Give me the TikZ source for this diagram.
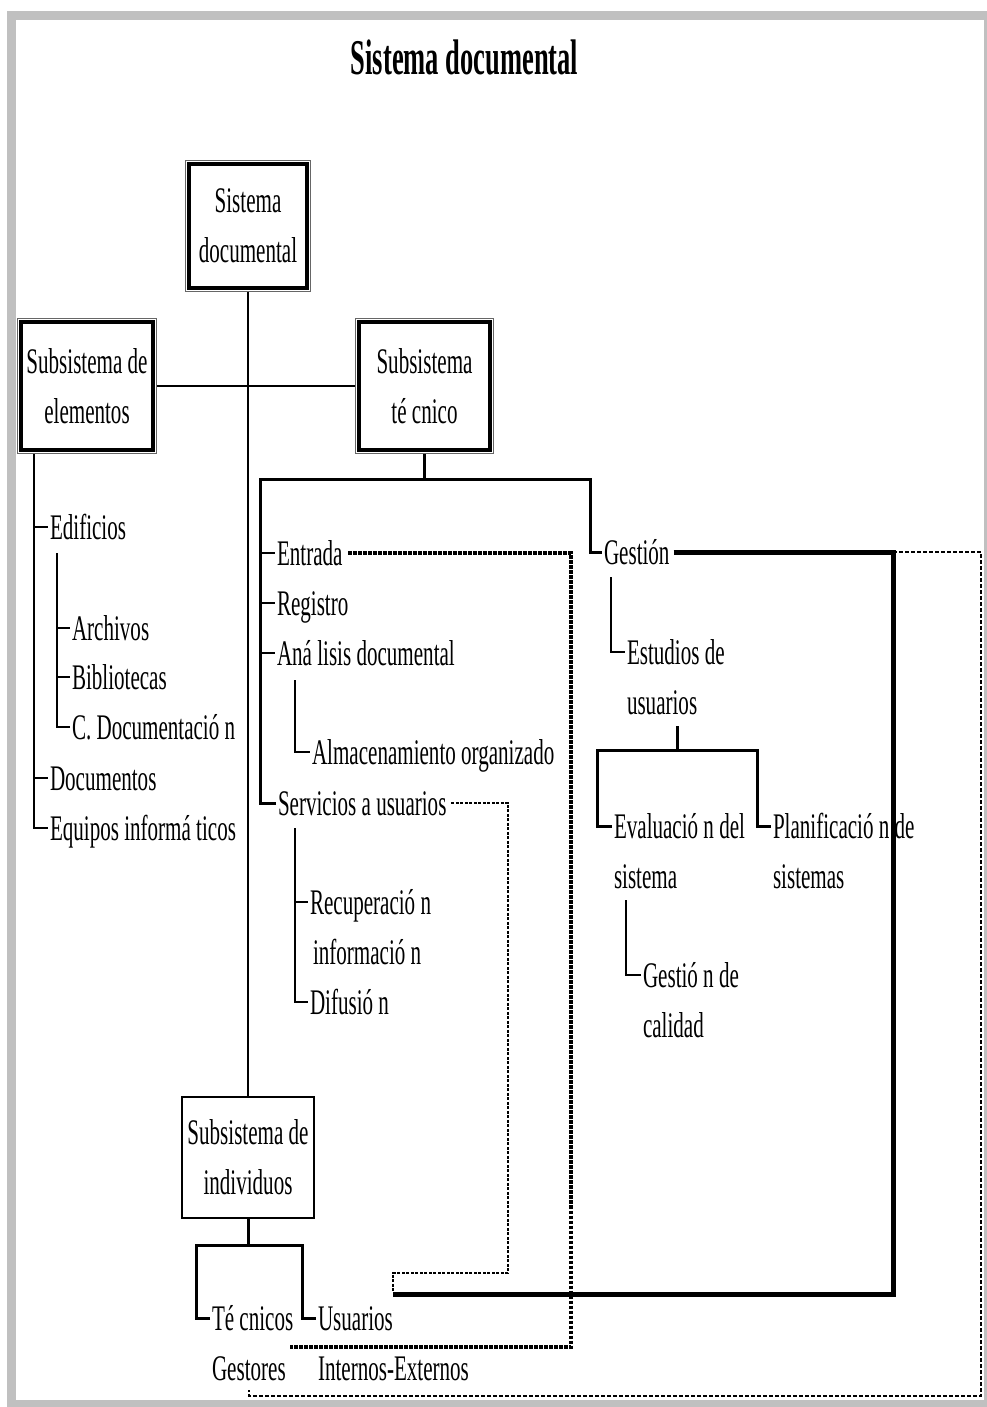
\documentclass[tikz,border=0pt]{standalone}
\usepackage{fontspec}
\setmainfont{Liberation Serif}[FakeStretch=0.585]
\newfontfamily\titlefont{Liberation Serif}[FakeStretch=0.53]
\definecolor{framegray}{HTML}{C0C0C0}
\begin{document}
\begin{tikzpicture}[x=1pt,y=-1pt,
  txt/.style={font=\fontsize{36}{50}\selectfont, inner sep=0pt, outer sep=0pt, anchor=base west, text height=24pt, text depth=0pt},
  dblbox/.style={draw, line width=3.3pt, inner sep=0pt, outer sep=3.8pt, align=center, font=\fontsize{36}{50}\selectfont},
  sglbox/.style={draw, line width=1.5pt, inner sep=0pt, outer sep=0pt, align=center, font=\fontsize{36}{50}\selectfont},
  outframe/.style={draw=black!60, line width=1.3pt},
  tree/.style={line width=2.6pt},
  bar/.style={line width=3pt},
  heavy/.style={line width=5pt},
  thickdot/.style={line width=3.5pt, dash pattern=on 3.5pt off 1.5pt},
  thindash/.style={line width=1.8pt, dash pattern=on 3pt off 1.5pt},
  rdot/.style={line width=2pt, dash pattern=on 4pt off 2pt}
]
\useasboundingbox (0,0) rectangle (987,1407);
\fill[framegray] (7,11) rectangle (987,1407);
\fill[white] (16,20) rectangle (984,1400);

% title
\node[font=\titlefont\bfseries\fontsize{50}{60}\selectfont, anchor=base, inner sep=0pt] (title) at (464.5,75) {Sistema documental};

% boxes
\node[dblbox, minimum width=118pt, minimum height=124pt] (b1) at (248,226) {Sistema\\documental};
\draw[outframe] (b1.north west) rectangle (b1.south east);
\node[dblbox, minimum width=132pt, minimum height=128pt] (b2) at (87,386) {Subsistema de\\elementos};
\draw[outframe] (b2.north west) rectangle (b2.south east);
\node[dblbox, minimum width=131pt, minimum height=128pt] (b3) at (424.5,386) {Subsistema\\té cnico};
\draw[outframe] (b3.north west) rectangle (b3.south east);
\node[sglbox, minimum width=132pt, minimum height=121pt] (b4) at (248,1157.5) {Subsistema de\\individuos};

\draw[tree] (b1.south) -- (b4.north);
\draw[tree] (b2.east) -- (b3.west);

% left subtree
\node[txt] (edif) at (50,539) {Edificios};
\node[txt] (arch) at (72,640) {Archivos};
\node[txt] (bibl) at (72,689) {Bibliotecas};
\node[txt] (cdoc) at (72,739) {C. Documentació n};
\node[txt] (docu) at (50,790) {Documentos};
\node[txt] (equi) at (50,840) {Equipos informá ticos};
\coordinate (l0) at (34,454);
\coordinate (l1) at (57,553);
\draw[tree] (l0) |- ([xshift=-2pt]equi.west);
\draw[tree] (l0 |- edif.west) -- ([xshift=-2pt]edif.west);
\draw[tree] (l0 |- docu.west) -- ([xshift=-2pt]docu.west);
\draw[tree] (l1) |- ([xshift=-2pt]cdoc.west);
\draw[tree] (l1 |- arch.west) -- ([xshift=-2pt]arch.west);
\draw[tree] (l1 |- bibl.west) -- ([xshift=-2pt]bibl.west);

% middle subtree
\node[txt] (entr) at (277,565) {Entrada};
\node[txt] (regi) at (277,615) {Registro};
\node[txt] (anal) at (277,665) {Aná lisis documental};
\node[txt] (alma) at (312,764) {Almacenamiento organizado};
\node[txt] (serv) at (278,815) {Servicios a usuarios};
\node[txt] (recu) at (310,914) {Recuperació n};
\node[txt] (info) at (313,964) {informació n};
\node[txt] (difu) at (310,1014) {Difusió n};
\node[txt] (gest) at (604,564) {Gestión};

\coordinate (mL) at (260,479);
\coordinate (mR) at (590,479);
\draw[tree] (b3.south) -- (b3.south |- mL);
\draw[bar] ([xshift=-2pt]serv.west) -| (mL) -- (mR) |- ([xshift=-2pt]gest.west);
\draw[tree] (mL |- entr.west) -- ([xshift=-2pt]entr.west);
\draw[tree] (mL |- regi.west) -- ([xshift=-2pt]regi.west);
\draw[tree] (mL |- anal.west) -- ([xshift=-2pt]anal.west);
\coordinate (a0) at (295,680);
\draw[tree] (a0) |- ([xshift=-2pt]alma.west);
\coordinate (s0) at (295,828);
\draw[tree] (s0) |- ([xshift=-2pt]difu.west);
\draw[tree] (s0 |- recu.west) -- ([xshift=-2pt]recu.west);

% right subtree
\node[txt] (estu) at (627,664) {Estudios de};
\node[txt] (estb) at (627,714) {usuarios};
\node[txt] (eval) at (614,838) {Evaluació n del};
\node[txt] (evab) at (614,888) {sistema};
\node[txt] (plan) at (773,838) {Planificació n de};
\node[txt] (plab) at (773,888) {sistemas};
\node[txt] (gcal) at (643,987) {Gestió n de};
\node[txt] (gcab) at (643,1037) {calidad};
\coordinate (g0) at (611,577);
\draw[tree] (g0) |- ([xshift=-2pt]estu.west);
\coordinate (e0) at (677,726);
\coordinate (eL) at (597,750);
\coordinate (eR) at (757,750);
\draw[bar] (e0) -- (e0 |- eL);
\draw[bar] ([xshift=-2pt]eval.west) -| (eL) -- (eR) |- ([xshift=-2pt]plan.west);
\coordinate (v0) at (626,900);
\draw[tree] (v0) |- ([xshift=-2pt]gcal.west);

% bottom subtree
\node[txt] (tecn) at (212,1330) {Té cnicos};
\node[txt] (usua) at (318,1330) {Usuarios};
\node[txt] (gsto) at (212,1380) {Gestores};
\node[txt] (inex) at (318,1380) {Internos-Externos};
\coordinate (iL) at (196,1245);
\coordinate (iR) at (302,1245);
\draw[bar] (b4.south) -- (b4.south |- iL);
\draw[bar] ([xshift=-2pt]tecn.west) -| (iL) -- (iR) |- ([xshift=-2pt]usua.west);

% cross connectors
\coordinate (dA) at (571,1347);
\coordinate (dB) at (290,1347);
\draw[thickdot] ([xshift=6pt]entr.east) -| (dA) -- (dB);
\coordinate (sA) at (508,1273);
\coordinate (sB) at (393,1291);
\draw[thindash] ([xshift=5pt]serv.east) -| (sA) -| (sB);
\coordinate (tA) at (893,1294);
\coordinate (tB) at (393,1294);
\draw[heavy] ([xshift=4pt]gest.east) -| (tA) -- (tB);
\coordinate (tC) at (tA |- gest.east);
\coordinate (rA) at (981,1396);
\coordinate (rB) at (249,1390);
\draw[rdot] (tC) -| (rA) -| (rB);
\end{tikzpicture}
\end{document}
